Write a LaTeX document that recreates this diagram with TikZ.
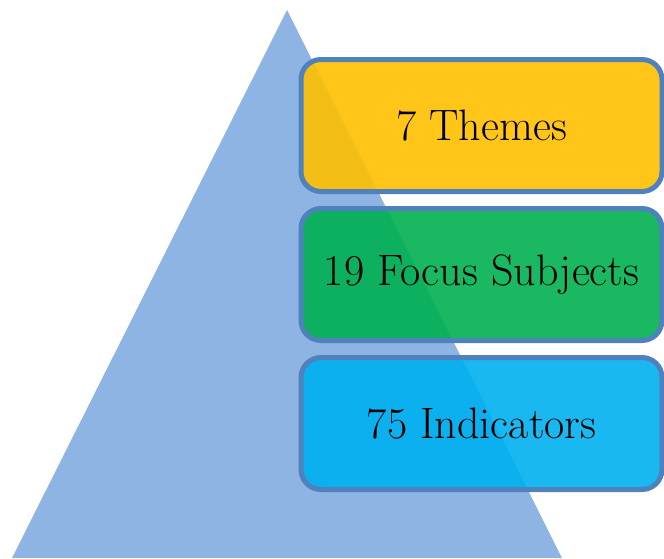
\documentclass[tikz,border=0pt]{standalone}
\usepackage{fontspec}
\usetikzlibrary{positioning}
\definecolor{pyramidblue}{HTML}{8EB4E3}
\definecolor{boxline}{HTML}{4F81BD}
\definecolor{themeyellow}{HTML}{FFC000}
\definecolor{focusgreen}{HTML}{00B050}
\definecolor{indicatorblue}{HTML}{00B0F0}
\tikzset{levelbox/.style = {draw=boxline, line width=5pt, rounded corners=20pt,
  fill opacity=.9, text opacity=1, minimum width=361pt, minimum height=132pt,
  inner sep=0pt, font=\fontsize{44}{52}\selectfont}}

\begin{document}
\begin{tikzpicture}[x=1pt,y=-1pt]
\useasboundingbox (0,0) rectangle (664,558);
\fill[pyramidblue] (287,10) -- (12,558) -- (562,558) -- cycle;

\node[levelbox, fill=themeyellow] (themes) at (481.5,125.5) {7 Themes};
\node[levelbox, fill=focusgreen, below=12pt of themes] (focus) {19 Focus Subjects};
\node[levelbox, fill=indicatorblue, below=12pt of focus] (indicators) {75 Indicators};

\end{tikzpicture}
\end{document}
